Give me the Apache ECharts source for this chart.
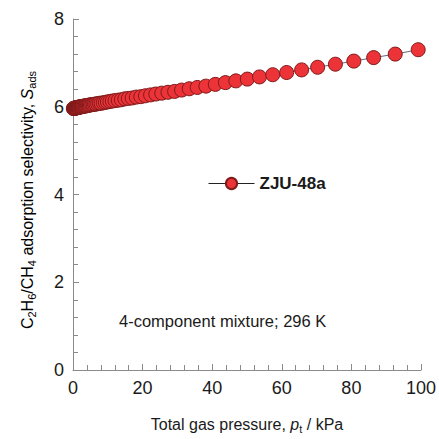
<!DOCTYPE html>
<html>
<head>
<meta charset="utf-8">
<script src="https://cdn.jsdelivr.net/npm/echarts@6/dist/echarts.min.js"></script>
<style>
  html, body { margin: 0; padding: 0; background: #fff; }
  #chart { width: 439px; height: 439px; }
</style>
</head>
<body>
<div id="chart"></div>
<script>
// total gas pressure (kPa)
const pressure = [0.1, 0.2, 0.3, 0.4, 0.5, 0.6, 0.7, 0.8, 0.9, 1.0, 1.1, 1.2, 1.3, 1.4, 1.5, 1.6, 1.7, 1.8, 1.9,
  2.1, 2.2, 2.4, 2.5, 2.7, 2.9, 3.1, 3.4, 3.6, 3.8, 4.1, 4.4, 4.7, 5.0, 5.4, 5.8, 6.2, 6.6, 7.1, 7.6, 8.1, 8.7,
  9.3, 9.9, 10.6, 11.3, 12.1, 13.0, 13.9, 14.9, 15.9, 17.0, 18.2, 19.5, 20.8, 22.3, 23.8, 25.5, 27.3, 29.2,
  31.2, 33.4, 35.7, 38.2, 40.9, 43.8, 46.8, 50.1, 53.6, 57.4, 61.4, 65.7, 70.3, 75.4, 80.7, 86.4, 92.6, 99.2];
// C2H6/CH4 adsorption selectivity
const selectivity = [5.96, 5.96, 5.96, 5.97, 5.97, 5.97, 5.97, 5.97, 5.97, 5.98, 5.98, 5.98, 5.98, 5.98, 5.99, 5.99, 5.99, 5.99, 5.99,
  6.00, 6.00, 6.00, 6.00, 6.01, 6.01, 6.01, 6.02, 6.02, 6.02, 6.03, 6.03, 6.04, 6.04, 6.05, 6.05, 6.06, 6.06, 6.07, 6.08, 6.08, 6.09,
  6.10, 6.11, 6.12, 6.13, 6.14, 6.15, 6.16, 6.18, 6.19, 6.20, 6.22, 6.23, 6.25, 6.27, 6.29, 6.31, 6.33, 6.35,
  6.38, 6.41, 6.44, 6.47, 6.51, 6.55, 6.59, 6.63, 6.68, 6.73, 6.78, 6.84, 6.90, 6.97, 7.04, 7.12, 7.20, 7.30];
const seriesName = "ZJU-48a";
const xTicks = [0, 20, 40, 60, 80, 100];
const yTicks = [0, 2, 4, 6, 8];

// svg renderer: the canvas one drew a stray mirrored copy of the rotated title
const chart = echarts.init(document.getElementById("chart"), null, { renderer: "svg" });
const font = "Liberation Sans, Arial, sans-serif";
const axisGrey = "#8a8a8a";
const ink = "#1a1a1a";

// rich styles for sub/italic pieces of the axis titles
const titleRich = {
  n: { fontFamily: font, fontSize: 16, color: ink, lineHeight: 20 },
  i: { fontFamily: font, fontSize: 16, fontStyle: "italic", color: ink, lineHeight: 20 },
  s: { fontFamily: font, fontSize: 11, color: ink, lineHeight: 12, verticalAlign: "bottom" }
};

chart.setOption({
  animation: false,
  grid: { left: 73, right: 13, top: 19, bottom: 68 },
  legend: {
    left: 203, top: 170,
    itemWidth: 46, itemHeight: 14, itemGap: 10,
    textStyle: { fontFamily: font, fontSize: 17, fontWeight: "bold", color: ink },
    lineStyle: { color: "#222", width: 1 },
    data: [seriesName]
  },
  graphic: [
    {
      type: "text", left: 119, top: 312,
      style: { text: "4-component mixture; 296 K", font: "16.5px " + font, fill: ink }
    },
    {
      // y-axis title, read bottom to top
      type: "text", x: 27, y: 200, rotation: Math.PI / 2,
      style: {
        text: "{n|C}{s|2}{n|H}{s|6}{n|/CH}{s|4}{n| adsorption selectivity, }{i|S}{s|ads}",
        rich: titleRich, align: "center", verticalAlign: "middle"
      }
    }
  ],
  xAxis: {
    type: "value",
    min: xTicks[0], max: xTicks[xTicks.length - 1], interval: 20,
    axisLine: { lineStyle: { color: axisGrey, width: 1 } },
    axisTick: { inside: true, length: 6, lineStyle: { color: axisGrey } },
    minorTick: { show: true, splitNumber: 5, length: 5, lineStyle: { color: axisGrey } },
    splitLine: { show: false },
    axisLabel: { fontFamily: font, fontSize: 18, color: ink, margin: 9 },
    name: "{n|Total gas pressure, }{i|p}{s|t}{n| / kPa}",
    nameLocation: "middle", nameGap: 44,
    nameTextStyle: { rich: titleRich }
  },
  yAxis: {
    type: "value",
    min: yTicks[0], max: yTicks[yTicks.length - 1], interval: 2,
    axisLine: { show: true, lineStyle: { color: axisGrey, width: 1 } },
    axisTick: { show: true, inside: true, length: 6, lineStyle: { color: axisGrey } },
    minorTick: { show: true, splitNumber: 5, length: 5, lineStyle: { color: axisGrey } },
    splitLine: { show: false },
    axisLabel: { fontFamily: font, fontSize: 18, color: ink, margin: 9 }
  },
  series: [{
    name: seriesName,
    type: "line",
    data: pressure.map((p, i) => [p, selectivity[i]]),
    symbol: "circle",
    symbolSize: 14,
    showAllSymbol: true,
    lineStyle: { color: "#5f6b78", width: 1 },
    itemStyle: { color: "#ec3338", borderColor: "#7e1a1a", borderWidth: 1 }
  }]
});
</script>
</body>
</html>
